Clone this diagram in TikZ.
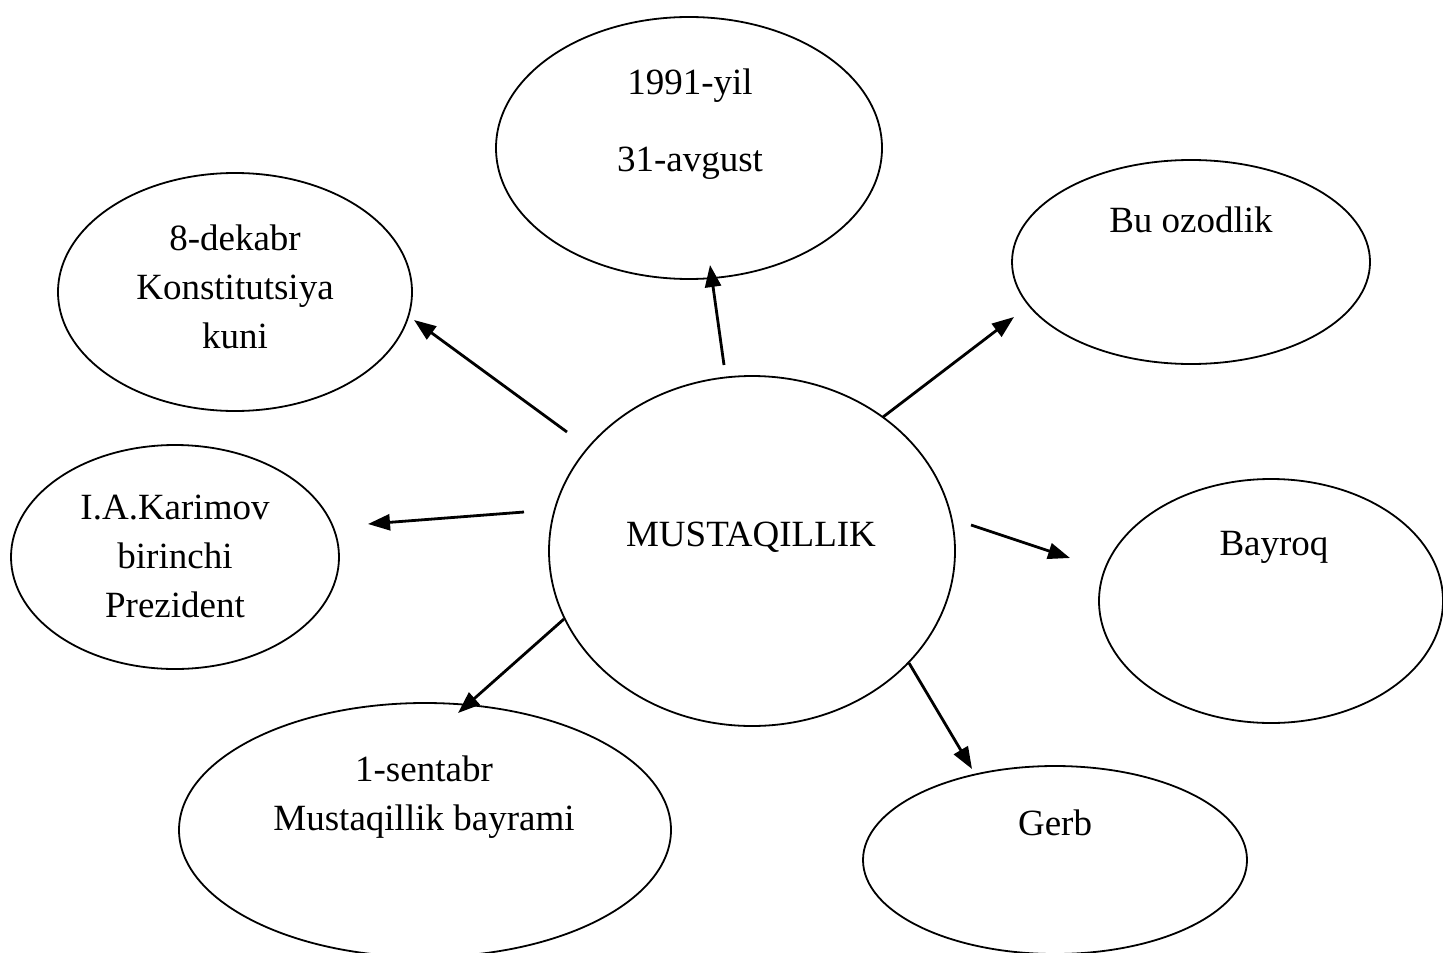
\documentclass[tikz,border=0pt]{standalone}
\usepackage{fontspec}
\setmainfont{Liberation Serif}
\usetikzlibrary{arrows.meta,shapes.geometric}

\begin{document}
\begin{tikzpicture}[
  x=0.5pt,y=-0.5pt,
  font=\fontsize{18.5}{24.5}\selectfont,
  oval/.style={draw,ellipse,line width=0.9pt,inner sep=0pt},
  txt/.style={align=center,inner sep=0pt,anchor=base},
  arrow/.style={-{Triangle[length=11pt,width=8pt]},line width=1.4pt}
]
\useasboundingbox (0,0) rectangle (1443,952);
% the ovals
\node[oval,minimum width=203pt,minimum height=175pt] (mus) at (752,551) {};
\node[oval,minimum width=193pt,minimum height=131pt] (yil) at (689,148) {};
\node[oval,minimum width=177pt,minimum height=119pt] (dek) at (235,292) {};
\node[oval,minimum width=164pt,minimum height=112pt] (kar) at (175,557) {};
\node[oval,minimum width=246pt,minimum height=127pt] (sen) at (425,830) {};
\node[oval,minimum width=179pt,minimum height=102pt] (ozod) at (1191,262) {};
\node[oval,minimum width=172pt,minimum height=122pt] (bay) at (1271,601) {};
\node[oval,minimum width=192pt,minimum height=94pt] (gerb) at (1055,860) {};

% their texts (placed by the baseline of the last line)
\node[txt] (mus-t) at (751,546) {MUSTAQILLIK};
\node[txt] (yil-t) at (690,172) {1991-yil\\[14pt]31-avgust};
\node[txt] (dek-t) at (235,348) {8-dekabr\\Konstitutsiya\\kuni};
\node[txt] (kar-t) at (175,617) {I.A.Karimov\\birinchi\\Prezident};
\node[txt] (sen-t) at (424,830) {1-sentabr\\Mustaqillik bayrami};
\node[txt] (ozod-t) at (1191,232) {Bu ozodlik};
\node[txt] (bay-t) at (1274,555) {Bayroq};
\node[txt] (gerb-t) at (1055,835) {Gerb};

% arrow ends
\coordinate (yil-s) at (724,365);  \coordinate (yil-e) at (710,265);
\coordinate (dek-s) at (567,432);  \coordinate (dek-e) at (414,320);
\coordinate (kar-s) at (524,512);  \coordinate (kar-e) at (368,524);
\coordinate (sen-s) at (564,619);  \coordinate (sen-e) at (458,713);
\coordinate (gerb-s) at (909,663); \coordinate (gerb-e) at (972,769);
\coordinate (bay-s) at (971,525);  \coordinate (bay-e) at (1070,558);
\coordinate (ozod-s) at (883,417); \coordinate (ozod-e) at (1014,317);
\foreach \n in {yil,dek,kar,sen,gerb,bay,ozod}
  \draw[arrow] (\n-s) -- (\n-e);
\end{tikzpicture}
\end{document}
